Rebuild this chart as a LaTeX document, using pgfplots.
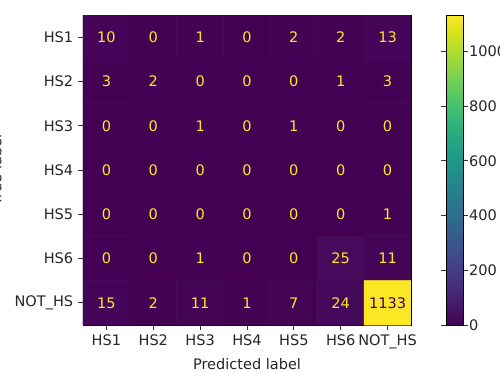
\documentclass[border=0pt]{standalone}
\usepackage{pgfplots}
\usepackage{pgfplotstable}
\pgfplotsset{compat=1.18}
\usepackage{fontspec}
\setmainfont{DejaVu Sans}
\definecolor{vyellow}{HTML}{FDE725}
\definecolor{vpurple}{HTML}{440154}
\definecolor{txt}{HTML}{262626}
\newcommand{\ff}{\fontsize{10.9pt}{13pt}\selectfont}
\pgfplotstableread{
x y c
0 0 10
1 0 0
2 0 1
3 0 0
4 0 2
5 0 2
6 0 13
0 1 3
1 1 2
2 1 0
3 1 0
4 1 0
5 1 1
6 1 3
0 2 0
1 2 0
2 2 1
3 2 0
4 2 1
5 2 0
6 2 0
0 3 0
1 3 0
2 3 0
3 3 0
4 3 0
5 3 0
6 3 0
0 4 0
1 4 0
2 4 0
3 4 0
4 4 0
5 4 0
6 4 1
0 5 0
1 5 0
2 5 1
3 5 0
4 5 0
5 5 25
6 5 11
0 6 15
1 6 2
2 6 11
3 6 1
4 6 7
5 6 24
6 6 1133
}\cm
\begin{document}
\begin{tikzpicture}
\begin{axis}[
  scale only axis,
  width=246pt, height=232.5pt,
  xmin=-0.5, xmax=6.5, ymin=-0.5, ymax=6.5,
  y dir=reverse,
  axis line style={black, line width=0.6pt},
  tick align=outside,
  tick pos=left,
  major tick length=3.8pt,
  tick style={black!80, line width=0.6pt},
  xtick={0,...,6}, ytick={0,...,6},
  xticklabels={HS1,HS2,HS3,HS4,HS5,HS6,NOT\_HS},
  yticklabels={HS1,HS2,HS3,HS4,HS5,HS6,NOT\_HS},
  ticklabel style={font=\ff, text=txt},
  xlabel={Predicted label},
  ylabel={True label},
  label style={font=\ff, text=txt},
  ylabel style={overlay, at={(axis description cs:-0.249,0.5)}, anchor=base, rotate=0},
  colormap/viridis,
  point meta min=0, point meta max=1133,
  colorbar,
  colorbar style={
    width=12.75pt,
    at={(parent axis.north east)}, anchor=north west, xshift=18pt,
    ytick={0,200,400,600,800,1000},
    tick align=outside,
    major tick length=3.8pt,
    axis line style={black, line width=0.6pt},
    tick style={black!80, line width=0.6pt},
    yticklabel style={font=\ff, text=txt, xshift=-3pt},
    /pgf/number format/assume math mode=true,
    /pgf/number format/1000 sep={},
  },
]
\addplot[matrix plot*, mesh/cols=7, point meta=explicit] table[x=x, y=y, meta=c] {\cm};
\addplot[draw=none, mark=none, nodes near coords, point meta=explicit symbolic,
  restrict expr to domain={\thisrow{c}}{0:1000},
  nodes near coords style={anchor=center, text=vyellow, font=\ff}]
  table[x=x, y=y, meta=c] {\cm};
\addplot[draw=none, mark=none, nodes near coords, point meta=explicit symbolic,
  restrict expr to domain={\thisrow{c}}{1000:2000},
  nodes near coords style={anchor=center, text=vpurple, font=\ff}]
  table[x=x, y=y, meta=c] {\cm};
\end{axis}
\pgfresetboundingbox
\useasboundingbox (-62.25pt,-35.25pt) rectangle (312.75pt,243.75pt);
\end{tikzpicture}
\end{document}
